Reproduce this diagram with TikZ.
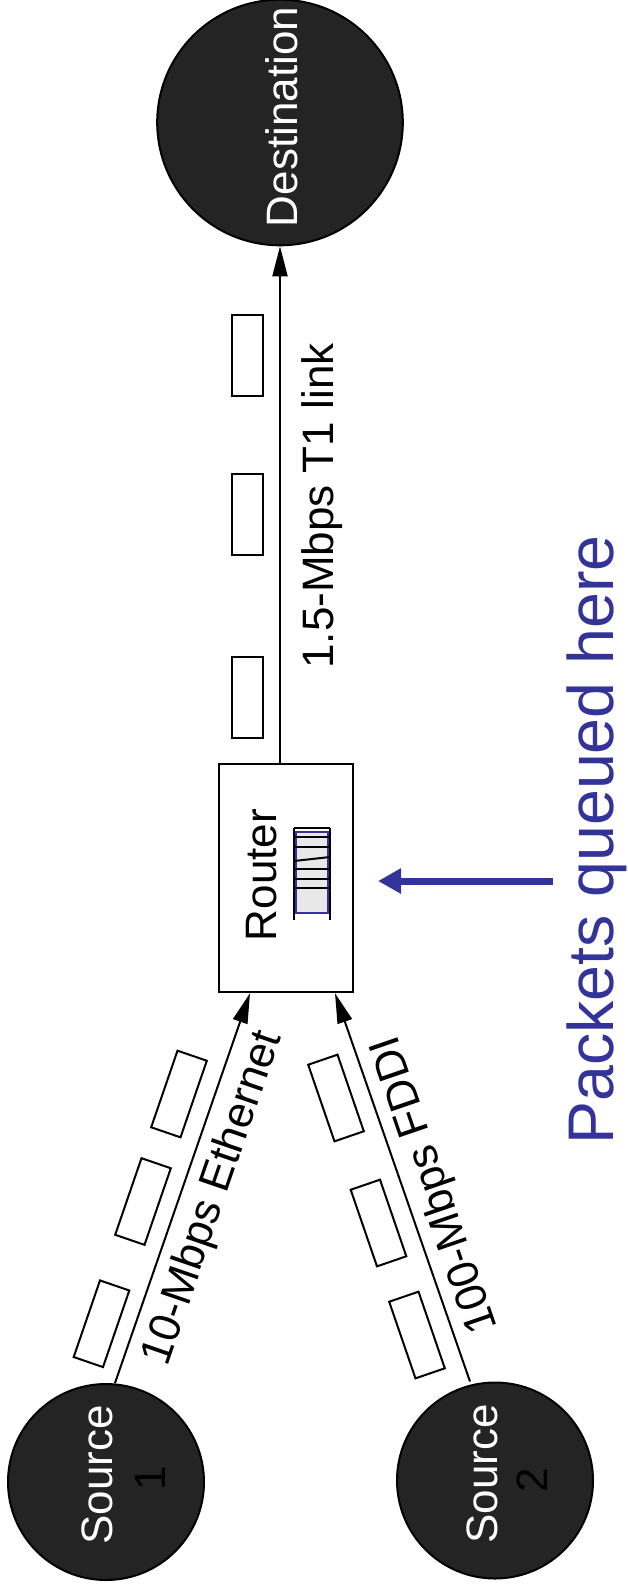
\documentclass[tikz,border=0pt]{standalone}
\usepackage{fontspec}
\setmainfont{Liberation Sans}
\usetikzlibrary{arrows.meta}
\definecolor{hostfill}{RGB}{36,36,36}
\definecolor{qblue}{RGB}{51,51,153}
\definecolor{qgray}{RGB}{232,232,232}
\begin{document}
\begin{tikzpicture}[x=1pt,y=-1pt,
  host/.style={circle,draw=black,line width=2pt,fill=hostfill,inner sep=0pt},
  lbl/.style={font=\fontsize{44pt}{52pt}\selectfont,inner sep=0pt},
  pkt/.style={draw=black,line width=2pt,minimum width=81pt,minimum height=31pt,inner sep=0pt,fill=white},
  link/.style={draw=black,line width=2pt,-{Triangle[length=30pt,width=15pt]}},
  qline/.style={draw=black,line width=2pt},
]
\useasboundingbox (0,0) rectangle (628,1591);

% hosts and router
\node[host,minimum size=245.6pt] (dest) at (280,122.5) {};
\node[host,minimum size=196pt] (s1) at (106,1482) {};
\node[host,minimum size=196pt] (s2) at (495,1480.5) {};
\node[draw,line width=2.5pt,minimum width=134pt,minimum height=228pt,inner sep=0pt] (router) at (286,878) {};

% texts
\node[lbl,text=white,rotate=90,anchor=base] (destlbl) at (297,117) {Destination};
\node[lbl,rotate=90,anchor=base] (routerlbl) at (276,875) {Router};
\node[lbl,text=white,rotate=90,anchor=base] (s1lbl) at (112,1475) {Source};
\node[lbl,rotate=90,anchor=base] (s1num) at (165,1478) {1};
\node[lbl,text=white,rotate=90,anchor=base] (s2lbl) at (497,1474) {Source};
\node[lbl,rotate=90,anchor=base] (s2num) at (547,1480) {2};
\node[lbl,rotate=90,anchor=base] (t1lbl) at (333,506) {1.5-Mbps T1 link};
\node[lbl,rotate=71.04,anchor=north,inner sep=12pt] (ethlbl) at (182.5,1188) {10-Mbps Ethernet};
\node[lbl,rotate=108.96,anchor=north,inner sep=12pt] (fddilbl) at (405.2,1195) {100-Mbps FDDI};
\node[font=\fontsize{64.5pt}{72pt}\selectfont,text=qblue,rotate=90,anchor=base,inner sep=0pt] (qlbl) at (613,840) {Packets queued here};

% packets on links
\node[pkt,rotate=90] (t1a) at (247.5,355.5) {};
\node[pkt,rotate=90] (t1b) at (247.5,514.5) {};
\node[pkt,rotate=90] (t1c) at (247.5,697) {};
\node[pkt,rotate=71.04] (e1) at (179,1094) {};
\node[pkt,rotate=71.04] (e2) at (143,1201.5) {};
\node[pkt,rotate=71.04] (e3) at (101.5,1323.75) {};
\node[pkt,rotate=108.96] (f1) at (336,1098) {};
\node[pkt,rotate=108.96] (f2) at (378.5,1223) {};
\node[pkt,rotate=108.96] (f3) at (417,1335) {};

% connectors
\draw[link] ([xshift=-6pt]router.north) -- (dest.south);
\draw[link] ([xshift=9pt]s1.north) -- ([xshift=-36pt]router.south);
\draw[link] ([xshift=-25pt]s2.north) -- ([xshift=49pt]router.south);

% queue inside router
\fill[qgray] (296,832) rectangle (328,913);
\draw[qblue,line width=1.2pt] (296,832) rectangle (328,913);
\draw[qline] (294,828) -- (294,920) (330,828) -- (330,920);
\foreach \yy in {828,837,847,869,879,888} \draw[qline] (294,\yy) -- (330,\yy);
\draw[qline] (294,861) -- (330,857);

% queued-here arrow
\coordinate (qtail) at (553,881);
\coordinate (qtip) at (378,881);
\draw[qblue,line width=7pt,-{Triangle[length=23pt,width=24pt]}] (qtail) -- (qtip);
\end{tikzpicture}
\end{document}
